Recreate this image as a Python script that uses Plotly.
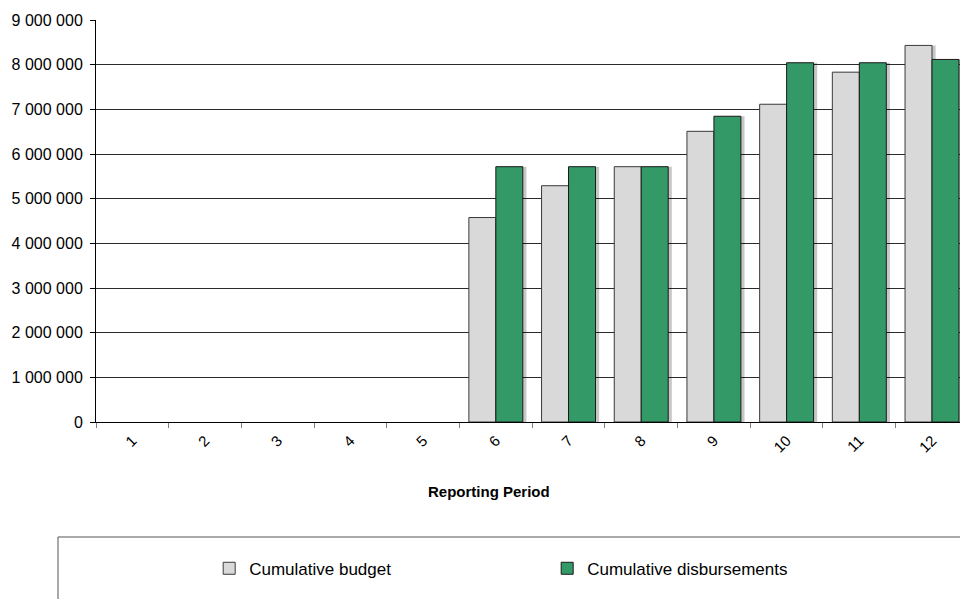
import plotly.graph_objects as go

periods = ["1", "2", "3", "4", "5", "6", "7", "8", "9", "10", "11", "12"]
cumulative_budget = [None, None, None, None, None, 4578000, 5290000, 5716000, 6508000, 7114000, 7832000, 8431000]
cumulative_disbursements = [None, None, None, None, None, 5716000, 5716000, 5716000, 6845000, 8043000, 8043000, 8117000]
y_ticks = [0, 1000000, 2000000, 3000000, 4000000, 5000000, 6000000, 7000000, 8000000, 9000000]

FONT = "Liberation Sans, Arial, sans-serif"
BW = 0.371      # bar width in category units
SH = 0.05       # shadow shift

fig = go.Figure()
# soft drop shadows
for vals, off in ((cumulative_budget, -BW), (cumulative_disbursements, 0.0)):
    fig.add_trace(go.Bar(
        x=periods, y=vals, width=BW, offset=off + SH, showlegend=False, hoverinfo="skip",
        marker=dict(color="rgba(0,0,0,0.22)", line=dict(width=0)),
    ))
fig.add_trace(go.Bar(
    x=periods, y=cumulative_budget, name="Cumulative budget", width=BW, offset=-BW,
    marker=dict(color="#D9D9D9", line=dict(color="#3a3a3a", width=1)),
))
fig.add_trace(go.Bar(
    x=periods, y=cumulative_disbursements, name="Cumulative disbursements", width=BW, offset=0.0,
    marker=dict(color="#339966", line=dict(color="#1a1a1a", width=1)),
))

W, H = 960, 599
L, T, B = 96, 20, 177
fig.update_layout(
    width=W, height=H,
    margin=dict(l=L, r=0, t=T, b=B, pad=0),
    paper_bgcolor="white", plot_bgcolor="white",
    barmode="overlay",
    separators=". ",
    font=dict(family=FONT, color="black", size=16),
    showlegend=True,
    legend=dict(
        orientation="h", x=0.131, xanchor="left", y=-0.365, yanchor="middle",
        font=dict(family=FONT, size=17, color="black"),
        entrywidth=293, entrywidthmode="pixels",
        bgcolor="rgba(0,0,0,0)", borderwidth=0, traceorder="normal",
    ),
    xaxis=dict(
        type="category", range=[-0.5, 11.385],
        showline=True, linecolor="black", linewidth=1,
        ticks="outside", ticklen=5, tickcolor="#808080", tickson="boundaries",
        tickangle=-45, tickfont=dict(family=FONT, size=15, color="black"),
        ticklabelstandoff=3,
        showgrid=False, zeroline=False,
    ),
    yaxis=dict(
        range=[0, 9000000], tickvals=y_ticks, tickformat=",d",
        showline=True, linecolor="black", linewidth=1,
        ticks="outside", ticklen=5, tickcolor="black",
        tickfont=dict(family=FONT, size=16, color="black"),
        ticklabelstandoff=4,
        showgrid=True, gridcolor="#2a2a2a", gridwidth=1,
        zeroline=True, zerolinecolor="black", zerolinewidth=1,
    ),
)

pw = W - L
ph = H - T - B

def py(page_y):
    return (422 - page_y) / ph

def px(page_x):
    return (page_x - 96) / pw

fig.add_annotation(
    text="<b>Reporting Period</b>", xref="paper", yref="paper",
    x=px(489), y=py(491), xanchor="center", yanchor="middle",
    showarrow=False, font=dict(family=FONT, size=15, color="black"),
)
# legend frame
fig.add_shape(
    type="rect", xref="paper", yref="paper",
    x0=px(58), x1=1.05, y0=py(537), y1=py(640),
    line=dict(color="#555555", width=1), fillcolor="rgba(0,0,0,0)", layer="below",
)

fig.write_html(
    "out.html",
    config={"displayModeBar": False},
    post_script="document.body.style.margin='0';document.body.style.overflow='hidden';",
)
